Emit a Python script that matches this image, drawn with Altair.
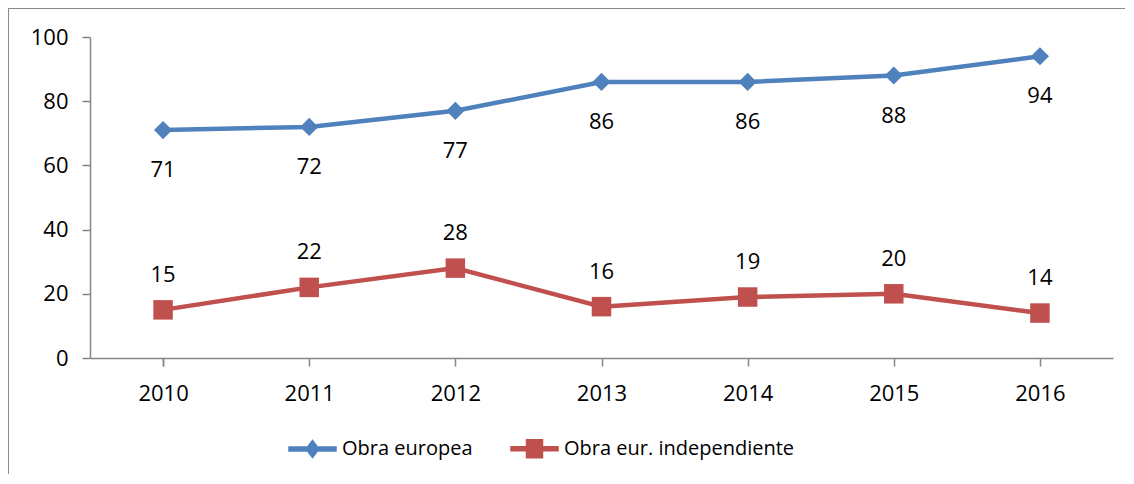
import altair as alt
import pandas as pd

years = ["2010", "2011", "2012", "2013", "2014", "2015", "2016"]
europea = [71, 72, 77, 86, 86, 88, 94]
independiente = [15, 22, 28, 16, 19, 20, 14]
series_names = ["Obra europea", "Obra eur. independiente"]
series_colors = ["#4F81BD", "#C0504D"]
legend_paths = [
    "M-2,-0.17L2,-0.17L2,0.17L-2,0.17ZM0,-0.72L0.55,0L0,0.72L-0.55,0Z",
    "M-2,-0.17L2,-0.17L2,0.17L-2,0.17ZM-0.68,-0.76L0.68,-0.76L0.68,0.76L-0.68,0.76Z",
]

rows = []
for y, a, b in zip(years, europea, independiente):
    rows.append({"year": y, "value": a, "series": series_names[0]})
    rows.append({"year": y, "value": b, "series": series_names[1]})
df = pd.DataFrame(rows)

FONT = "Open Sans"
FS = 22
GRAY = "#868686"

xenc = alt.X("year:O", title=None,
             scale=alt.Scale(paddingInner=0, paddingOuter=0),
             axis=alt.Axis(labelAngle=0, bandPosition=1, tickExtra=True,
                           tickSize=8, labelPadding=17, labelFontSize=FS,
                           labelColor="#000000", labelFont=FONT))
yenc = alt.Y("value:Q", title=None,
             scale=alt.Scale(domain=[0, 100]),
             axis=alt.Axis(values=[0, 20, 40, 60, 80, 100], tickSize=8,
                           labelPadding=14, labelFontSize=FS, grid=False,
                           labelColor="#000000", labelFont=FONT))
color_scale = alt.Scale(domain=series_names, range=series_colors)
cenc = alt.Color("series:N", title="Serie", legend=None, scale=color_scale)

base = alt.Chart(df)

leg = alt.Legend(title=None, orient="none", legendX=210, legendY=399,
                 direction="horizontal", symbolSize=552,
                 labelOffset=17, columnPadding=35, labelFontSize=20,
                 labelFont=FONT, labelColor="#000000", labelLimit=400)

legend_layer = base.mark_point(filled=True, opacity=1).encode(
    x=xenc, y=yenc,
    color=alt.Color("series:N", title="Serie", scale=color_scale, legend=leg),
    shape=alt.Shape("series:N", title="Serie",
                    scale=alt.Scale(domain=series_names, range=legend_paths),
                    legend=leg),
)

lines = base.mark_line(strokeWidth=4.5).encode(x=xenc, y=yenc, color=cenc)

pts_eu = base.transform_filter(alt.datum.series == series_names[0]).mark_point(
    shape="diamond", filled=True, size=330, opacity=1).encode(x=xenc, y=yenc, color=cenc)
pts_in = base.transform_filter(alt.datum.series == series_names[1]).mark_point(
    shape="square", filled=True, size=380, opacity=1).encode(x=xenc, y=yenc, color=cenc)

txt_eu = base.transform_filter(alt.datum.series == series_names[0]).mark_text(
    dy=40, fontSize=FS, font=FONT, color="#000000").encode(x=xenc, y=yenc, text="value:Q")
txt_in = base.transform_filter(alt.datum.series == series_names[1]).mark_text(
    dy=-35, fontSize=FS, font=FONT, color="#000000").encode(x=xenc, y=yenc, text="value:Q")

border_left = base.mark_rule(color="#898989", strokeWidth=1).encode(
    x=alt.value(-81.5), y=alt.value(-28.5), y2=alt.value(500))
border_top = base.mark_rule(color="#898989", strokeWidth=1).encode(
    x=alt.value(-81.5), x2=alt.value(1200), y=alt.value(-28.5))

chart = alt.layer(border_left, border_top, legend_layer, lines, pts_eu, pts_in, txt_eu, txt_in).properties(
    width=1023, height=321,
    autosize=alt.AutoSizeParams(type="none"),
    padding={"left": 82, "top": 29, "right": 12, "bottom": 116},
).configure_view(stroke=None).configure_axis(
    domainColor=GRAY, tickColor=GRAY, domainWidth=1.5, tickWidth=1.5
)

chart.save("out.html", embed_options={"renderer": "svg", "actions": False})
